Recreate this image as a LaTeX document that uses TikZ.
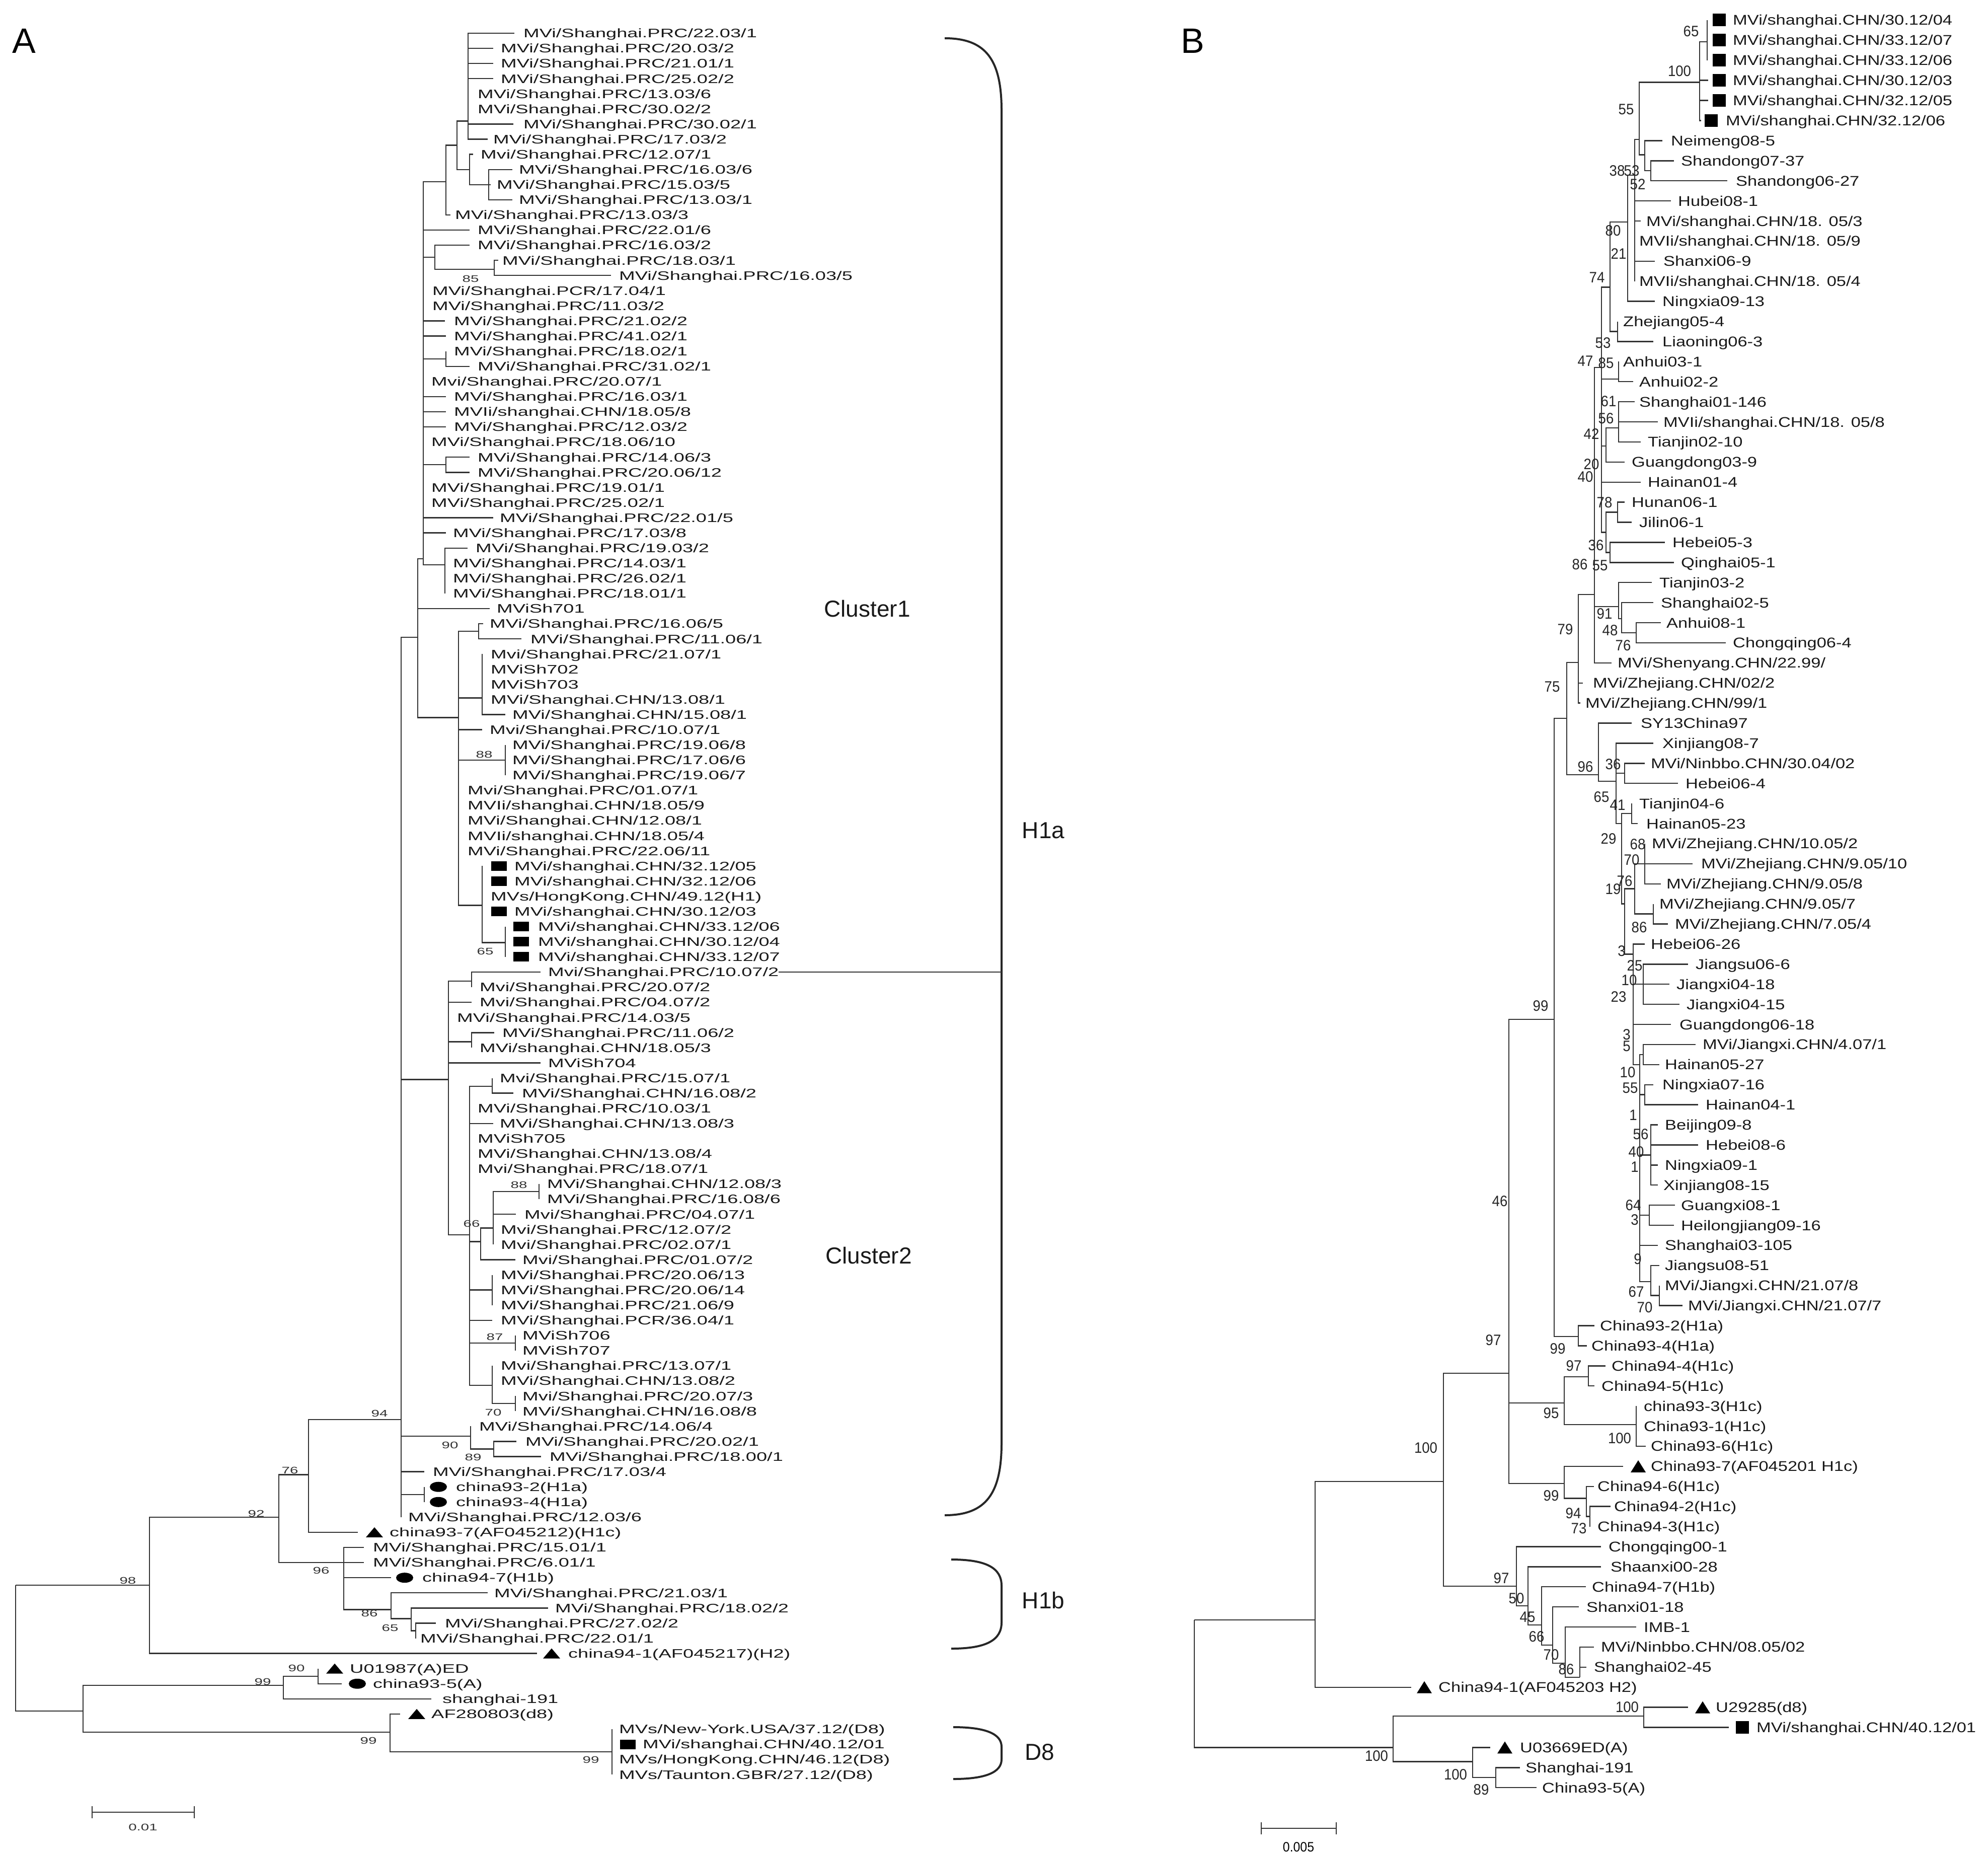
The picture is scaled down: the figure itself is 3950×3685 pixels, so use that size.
\documentclass[tikz,border=0pt]{standalone}
\usepackage{fontspec}
\setmainfont{Liberation Sans}
\newfontfamily\fa[FakeStretch=1.55]{Liberation Sans}
\newfontfamily\fb[FakeStretch=1.23]{Liberation Sans}
\newfontfamily\fnb[FakeStretch=0.92]{Liberation Sans}
\usetikzlibrary{shapes.geometric}
\pgfmathdeclarefunction{ra}{1}{\pgfmathparse{66+30.08*(#1-1)}}
\pgfmathdeclarefunction{rb}{1}{\pgfmathparse{40+39.9*(#1-1)}}
\tikzset{
 br/.style={line width=2.4pt, draw=black!80},
 la/.style={font=\fa\fontsize{24.5}{26}\selectfont, anchor=base west, inner sep=0pt, yshift=-8.8pt, text=black!90},
 lb/.style={font=\fb\fontsize{28}{30}\selectfont, anchor=base west, inner sep=0pt, yshift=-10pt, text=black!90},
 bsa/.style={font=\fa\fontsize{19}{20}\selectfont, inner sep=0pt, text=black!80},
 bsb/.style={font=\fnb\fontsize{30}{31}\selectfont, inner sep=0pt, text=black!85},
 sqa/.style={fill=black, inner sep=0pt, minimum width=31pt, minimum height=19pt},
 cia/.style={ellipse, fill=black, inner sep=0pt, minimum width=34pt, minimum height=20pt},
 sqb/.style={fill=black, inner sep=0pt, minimum width=26pt, minimum height=25pt},
 big/.style={font=\fontsize{46}{50}\selectfont, inner sep=0pt, text=black!90},
 brc/.style={line width=4pt, draw=black!85},
}
\newcommand\LA[4]{\coordinate (a#1) at (#2,{ra(#1)}); \node[la] (a#1l) at (#3,{ra(#1)}) {#4};}
\newcommand\LB[4]{\coordinate (b#1) at (#2,{rb(#1)}); \node[lb] (b#1l) at (#3,{rb(#1)}) {#4};}
\newcommand\CA[3]{\coordinate (#1) at (#2,{ra(#3)});}
\newcommand\CB[3]{\coordinate (#1) at (#2,{rb(#3)});}
\newcommand\KA[2]{\foreach \ch in {#2}{\draw[br] (#1) |- (\ch);}}
\newcommand\NA[4]{\node[bsa] (#1) at (#2,#3) {#4};}
\newcommand\NB[4]{\node[bsb] (#1) at (#2,#3) {#4};}
\newcommand\SQA[3]{\node[sqa] (#1) at (#2,{ra(#3)}) {};}
\newcommand\CIA[3]{\node[cia] (#1) at (#2,{ra(#3)}) {};}
\newcommand\TRA[3]{\coordinate (#1) at (#2,{ra(#3)}); \fill[black] (#1) ++(-17,10) -- ++(34,0) -- ++(-17,-20) -- cycle;}
\newcommand\SQB[3]{\node[sqb] (#1) at (#2,{rb(#3)}) {};}
\newcommand\TRB[3]{\coordinate (#1) at (#2,{rb(#3)}); \fill[black] (#1) ++(-15,12) -- ++(30,0) -- ++(-15,-24) -- cycle;}
\begin{document}
\begin{tikzpicture}[x=1pt,y=-1pt]
\fill[white] (0,0) rectangle (3950,3685);
\useasboundingbox (0,0) rectangle (3950,3685);
\node[font=\fontsize{70}{72}\selectfont, inner sep=0pt] (pA) at (48,81) {A};
\node[font=\fontsize{70}{72}\selectfont, inner sep=0pt] (pB) at (2370,81) {B};
% ================= PANEL A leaves
\LA{1}{1022}{1040}{MVi/Shanghai.PRC/22.03/1}
\LA{2}{980}{995}{MVi/Shanghai.PRC/20.03/2}
\LA{3}{980}{995}{MVi/Shanghai.PRC/21.01/1}
\LA{4}{980}{995}{MVi/Shanghai.PRC/25.02/2}
\LA{5}{930}{949}{MVi/Shanghai.PRC/13.03/6}
\LA{6}{930}{949}{MVi/Shanghai.PRC/30.02/2}
\LA{7}{1020}{1040}{MVi/Shanghai.PRC/30.02/1}
\LA{8}{969}{980}{MVi/Shanghai.PRC/17.03/2}
\LA{9}{940}{955}{Mvi/Shanghai.PRC/12.07/1}
\LA{10}{1018}{1031}{MVi/Shanghai.PRC/16.03/6}
\LA{11}{975}{987}{MVi/Shanghai.PRC/15.03/5}
\LA{12}{1018}{1031}{MVi/Shanghai.PRC/13.03/1}
\LA{13}{895}{904}{MVi/Shanghai.PRC/13.03/3}
\LA{14}{933}{949}{MVi/Shanghai.PRC/22.01/6}
\LA{15}{933}{949}{MVi/Shanghai.PRC/16.03/2}
\LA{16}{990}{998}{MVi/Shanghai.PRC/18.03/1}
\LA{17}{1214}{1230}{MVi/Shanghai.PRC/16.03/5}
\LA{18}{841}{859}{MVi/Shanghai.PCR/17.04/1}
\LA{19}{841}{859}{MVi/Shanghai.PRC/11.03/2}
\LA{20}{884}{902}{MVi/Shanghai.PRC/21.02/2}
\LA{21}{886}{902}{MVi/Shanghai.PRC/41.02/1}
\LA{22}{886}{902}{MVi/Shanghai.PRC/18.02/1}
\LA{23}{933}{949}{MVi/Shanghai.PRC/31.02/1}
\LA{24}{841}{857}{Mvi/Shanghai.PRC/20.07/1}
\LA{25}{886}{902}{MVi/Shanghai.PRC/16.03/1}
\LA{26}{886}{902}{MVIi/shanghai.CHN/18.05/8}
\LA{27}{886}{902}{MVi/Shanghai.PRC/12.03/2}
\LA{28}{841}{857}{MVi/Shanghai.PRC/18.06/10}
\LA{29}{933}{949}{MVi/Shanghai.PRC/14.06/3}
\LA{30}{933}{949}{MVi/Shanghai.PRC/20.06/12}
\LA{31}{841}{857}{MVi/Shanghai.PRC/19.01/1}
\LA{32}{841}{857}{MVi/Shanghai.PRC/25.02/1}
\LA{33}{980}{993}{MVi/Shanghai.PRC/22.01/5}
\LA{34}{886}{900}{MVi/Shanghai.PRC/17.03/8}
\LA{35}{929}{945}{MVi/Shanghai.PRC/19.03/2}
\LA{36}{884}{900}{MVi/Shanghai.PRC/14.03/1}
\LA{37}{884}{900}{MVi/Shanghai.PRC/26.02/1}
\LA{38}{884}{900}{MVi/Shanghai.PRC/18.01/1}
\LA{39}{973}{987}{MViSh701}
\LA{40}{960}{973}{MVi/Shanghai.PRC/16.06/5}
\LA{41}{1036}{1054}{MVi/Shanghai.PRC/11.06/1}
\LA{42}{958}{975}{Mvi/Shanghai.PRC/21.07/1}
\LA{43}{958}{975}{MViSh702}
\LA{44}{958}{975}{MViSh703}
\LA{45}{958}{975}{MVi/Shanghai.CHN/13.08/1}
\LA{46}{1004}{1018}{MVi/Shanghai.CHN/15.08/1}
\LA{47}{958}{973}{Mvi/Shanghai.PRC/10.07/1}
\LA{48}{1004}{1018}{MVi/Shanghai.PRC/19.06/8}
\LA{49}{1004}{1018}{MVi/Shanghai.PRC/17.06/6}
\LA{50}{1004}{1018}{MVi/Shanghai.PRC/19.06/7}
\LA{51}{911}{929}{Mvi/Shanghai.PRC/01.07/1}
\LA{52}{911}{929}{MVIi/shanghai.CHN/18.05/9}
\LA{53}{911}{929}{MVi/Shanghai.CHN/12.08/1}
\LA{54}{911}{929}{MVIi/shanghai.CHN/18.05/4}
\LA{55}{911}{929}{MVi/Shanghai.PRC/22.06/11}
\LA{56}{958}{1022}{MVi/shanghai.CHN/32.12/05}
\LA{57}{958}{1022}{MVi/shanghai.CHN/32.12/06}
\LA{58}{958}{975}{MVs/HongKong.CHN/49.12(H1)}
\LA{59}{958}{1022}{MVi/shanghai.CHN/30.12/03}
\LA{60}{1004}{1069}{MVi/shanghai.CHN/33.12/06}
\LA{61}{1004}{1069}{MVi/shanghai.CHN/30.12/04}
\LA{62}{1004}{1069}{MVi/shanghai.CHN/33.12/07}
\LA{63}{1074}{1089}{Mvi/Shanghai.PRC/10.07/2}
\LA{64}{937}{953}{Mvi/Shanghai.PRC/20.07/2}
\LA{65}{937}{953}{Mvi/Shanghai.PRC/04.07/2}
\LA{66}{891}{908}{MVi/Shanghai.PRC/14.03/5}
\LA{67}{982}{998}{MVi/Shanghai.PRC/11.06/2}
\LA{68}{937}{953}{MVi/shanghai.CHN/18.05/3}
\LA{69}{1074}{1089}{MViSh704}
\LA{70}{978}{993}{Mvi/Shanghai.PRC/15.07/1}
\LA{71}{1020}{1037}{MVi/Shanghai.CHN/16.08/2}
\LA{72}{933}{949}{MVi/Shanghai.PRC/10.03/1}
\LA{73}{980}{993}{MVi/Shanghai.CHN/13.08/3}
\LA{74}{933}{949}{MViSh705}
\LA{75}{933}{949}{MVi/Shanghai.CHN/13.08/4}
\LA{76}{933}{949}{Mvi/Shanghai.PRC/18.07/1}
\LA{77}{1071}{1087}{MVi/Shanghai.CHN/12.08/3}
\LA{78}{1071}{1087}{MVi/Shanghai.PRC/16.08/6}
\LA{79}{1025}{1042}{Mvi/Shanghai.PRC/04.07/1}
\LA{80}{980}{995}{Mvi/Shanghai.PRC/12.07/2}
\LA{81}{980}{995}{Mvi/Shanghai.PRC/02.07/1}
\LA{82}{1024}{1038}{Mvi/Shanghai.PRC/01.07/2}
\LA{83}{978}{995}{MVi/Shanghai.PRC/20.06/13}
\LA{84}{978}{995}{MVi/Shanghai.PRC/20.06/14}
\LA{85}{978}{995}{MVi/Shanghai.PRC/21.06/9}
\LA{86}{978}{995}{MVi/Shanghai.PCR/36.04/1}
\LA{87}{1024}{1038}{MViSh706}
\LA{88}{1024}{1038}{MViSh707}
\LA{89}{978}{995}{Mvi/Shanghai.PRC/13.07/1}
\LA{90}{978}{995}{MVi/Shanghai.CHN/13.08/2}
\LA{91}{1024}{1038}{Mvi/Shanghai.PRC/20.07/3}
\LA{92}{1024}{1038}{MVi/Shanghai.CHN/16.08/8}
\LA{93}{935}{952}{MVi/Shanghai.PRC/14.06/4}
\LA{94}{1026}{1044}{MVi/Shanghai.PRC/20.02/1}
\LA{95}{1075}{1092}{MVi/Shanghai.PRC/18.00/1}
\LA{96}{843}{860}{MVi/Shanghai.PRC/17.03/4}
\LA{97}{843}{906}{china93-2(H1a)}
\LA{98}{843}{906}{china93-4(H1a)}
\LA{99}{797}{811}{MVi/Shanghai.PRC/12.03/6}
\LA{100}{711}{774}{china93-7(AF045212)(H1c)}
\LA{101}{723}{741}{MVi/Shanghai.PRC/15.01/1}
\LA{102}{723}{741}{MVi/Shanghai.PRC/6.01/1}
\LA{103}{777}{839}{china94-7(H1b)}
\LA{104}{969}{982}{MVi/Shanghai.PRC/21.03/1}
\LA{105}{1089}{1103}{MVi/Shanghai.PRC/18.02/2}
\LA{106}{866}{884}{MVi/Shanghai.PRC/27.02/2}
\LA{107}{826}{835}{MVi/Shanghai.PRC/22.01/1}
\LA{108}{1067}{1129}{china94-1(AF045217)(H2)}
\LA{109}{632}{695}{U01987(A)ED}
\LA{110}{679}{741}{china93-5(A)}
\LA{111}{857}{879}{shanghai-191}
\LA{112}{795}{857}{AF280803(d8)}
\LA{113}{1216}{1230}{MVs/New-York.USA/37.12/(D8)}
\LA{114}{1216}{1277}{MVi/shanghai.CHN/40.12/01}
\LA{115}{1216}{1230}{MVs/HongKong.CHN/46.12(D8)}
\LA{116}{1216}{1230}{MVs/Taunton.GBR/27.12/(D8)}
% internal nodes A
\coordinate (A0) at (31,{ra(103.5)});
\CA{nA98}{297}{103.5}
\CA{nA92}{554}{99}
\CA{nA76}{613}{96.2}
\CA{nA94}{797}{92.55}
\CA{nC1}{830}{40.9}
\CA{nBB}{841}{35.7}
\CA{nA5}{886}{10.8}
\CA{nA2}{908}{8.4}
\CA{nA1}{930}{6.8}
\CA{nA3}{933}{10}
\CA{nA4}{971}{11}
\CA{nA6}{864}{15.8}
\CA{nA7}{982}{16.6}
\CA{nA8}{886}{22.5}
\CA{nA9}{886}{29.5}
\CA{nA10}{884}{36.1}
\CA{nC2}{911}{46.2}
\CA{nC2a}{951}{40.5}
\CA{nC3}{958}{44.9}
\CA{nC4}{1004}{49}
\CA{nC5}{958}{58.6}
\CA{nC6}{1004}{61.05}
\CA{nD1}{891}{70.1}
\CA{nD2}{937}{63.6}
\CA{nD3}{937}{67.6}
\CA{nD4}{933}{80.35}
\CA{nD4a}{978}{70.55}
\CA{nD5}{955}{80.8}
\CA{nE1}{980}{79.9}
\CA{nE88}{1071}{77.5}
\CA{nD6}{978}{84}
\CA{nD87}{1024}{87.5}
\CA{nD7}{978}{90.3}
\CA{nD70}{1024}{91.5}
\CA{nA90}{935}{93.65}
\CA{nA89}{981}{94.5}
\CA{nA9798}{843}{97.5}
\CA{nA96}{683}{102}
\CA{nA86}{777}{105.1}
\CA{nA65}{817}{105.7}
\CA{nA65b}{826}{106.5}
\CA{nAD}{165}{111.8}
\CA{nA99a}{563}{110.1}
\CA{nA90a}{632}{109.5}
\CA{nA99b}{775}{113.2}
\CA{nA99c}{1216}{114.5}
% edges A
\KA{A0}{nA98,nAD}
\KA{nA98}{nA92,a108}
\KA{nA92}{nA76,nA96}
\KA{nA76}{nA94,a100}
\KA{nA94}{nC1,nD1,nA90,a96,nA9798,a99}
\KA{nC1}{nBB,a39,nC2}
\KA{nBB}{nA5,a14,nA6,a18,a19,a20,a21,nA8,a24,a25,a26,a27,a28,nA9,a31,a32,a33,a34,nA10}
\KA{nA5}{nA2,a13}
\KA{nA2}{nA1,nA3}
\KA{nA1}{a1,a2,a3,a4,a5,a6,a7,a8}
\KA{nA3}{a9,nA4}
\KA{nA4}{a10,a11,a12}
\KA{nA6}{a15,nA7}
\KA{nA7}{a16,a17}
\KA{nA8}{a22,a23}
\KA{nA9}{a29,a30}
\KA{nA10}{a35,a36,a37,a38}
\KA{nC2}{nC2a,nC3,a47,nC4,a51,a52,a53,a54,a55,nC5}
\KA{nC2a}{a40,a41}
\KA{nC3}{a42,a43,a44,a45,a46}
\KA{nC4}{a48,a49,a50}
\KA{nC5}{a56,a57,a58,a59,nC6}
\KA{nC6}{a60,a61,a62}
\KA{nD1}{nD2,a65,a66,nD3,a69,nD4}
\KA{nD2}{a63,a64}
\KA{nD3}{a67,a68}
\KA{nD4}{nD4a,a72,a73,a74,a75,a76,nD5,nD6,a86,nD87,nD7}
\KA{nD4a}{a70,a71}
\KA{nD5}{nE1,a82}
\KA{nE1}{nE88,a79,a80,a81}
\KA{nE88}{a77,a78}
\KA{nD6}{a83,a84,a85}
\KA{nD87}{a87,a88}
\KA{nD7}{a89,a90,nD70}
\KA{nD70}{a91,a92}
\KA{nA90}{a93,nA89}
\KA{nA89}{a94,a95}
\KA{nA9798}{a97,a98}
\KA{nA96}{a101,a102,a103,nA86}
\KA{nA86}{a104,nA65}
\KA{nA65}{a105,nA65b}
\KA{nA65b}{a106,a107}
\KA{nAD}{nA99a,nA99b}
\KA{nA99a}{nA90a,a111}
\KA{nA90a}{a109,a110}
\KA{nA99b}{a112,nA99c}
\KA{nA99c}{a113,a114,a115,a116}
% markers A
\SQA{mA56}{991}{56}\SQA{mA57}{991}{57}\SQA{mA59}{991}{59}
\SQA{mA60}{1035}{60}\SQA{mA61}{1035}{61}\SQA{mA62}{1035}{62}
\SQA{mA114}{1247}{114}
\CIA{mA97}{871}{97}\CIA{mA98}{871}{98}\CIA{mA103}{804}{103}\CIA{mA110}{710}{110}
\TRA{mA100}{744}{100}\TRA{mA108}{1096}{108}\TRA{mA109}{665}{109}\TRA{mA112}{828}{112}
% bootstrap A
\NA{bA1}{935}{554}{85}
\NA{bA2}{962}{1499}{88}
\NA{bA3}{964}{1890}{65}
\NA{bA4}{1031}{2354}{88}
\NA{bA5}{937}{2431}{66}
\NA{bA6}{983}{2656}{87}
\NA{bA7}{980}{2806}{70}
\NA{bA8}{754}{2808}{94}
\NA{bA9}{894}{2871}{90}
\NA{bA10}{940}{2895}{89}
\NA{bA11}{576}{2921}{76}
\NA{bA12}{509}{3007}{92}
\NA{bA13}{254}{3140}{98}
\NA{bA14}{638}{3120}{96}
\NA{bA15}{734}{3205}{86}
\NA{bA16}{775}{3234}{65}
\NA{bA17}{589}{3314}{90}
\NA{bA18}{522}{3341}{99}
\NA{bA19}{732}{3458}{99}
\NA{bA20}{1174}{3496}{99}
% scale A
\coordinate (sA1) at (183,3600); \coordinate (sA2) at (386,3600);
\draw[br] (sA1) -- (sA2);
\draw[br] (sA1) ++(0,-12) -- ++(0,24);
\draw[br] (sA2) ++(0,-12) -- ++(0,24);
\node[bsa] (sAl) at (284,3630) {0.01};
% braces and clade names
\draw[brc] (1877,76) .. controls (1960,76) and (1990,120) .. (1990,220) -- (1990,2866) .. controls (1990,2966) and (1960,3010) .. (1877,3010);
\coordinate (brA) at (1990,{ra(63)});
\draw[br] (a63l.east |- a63) -- (brA);
\draw[brc] (1890,3098) .. controls (1960,3098) and (1990,3115) .. (1990,3150) -- (1990,3223) .. controls (1990,3258) and (1960,3275) .. (1890,3275);
\draw[brc] (1894,3431) .. controls (1960,3431) and (1990,3445) .. (1990,3470) -- (1990,3495) .. controls (1990,3520) and (1960,3534) .. (1894,3534);
\node[big] (cl1) at (1723,1209) {Cluster1};
\node[big] (cl2) at (1726,2494) {Cluster2};
\node[big] (h1a) at (2073,1650) {H1a};
\node[big] (h1b) at (2073,3179) {H1b};
\node[big] (d8) at (2066,3481) {D8};
% ================= PANEL B leaves
\LB{1}{3392}{3443}{MVi/shanghai.CHN/30.12/04}
\LB{2}{3392}{3443}{MVi/shanghai.CHN/33.12/07}
\LB{3}{3392}{3443}{MVi/shanghai.CHN/33.12/06}
\LB{4}{3394}{3443}{MVi/shanghai.CHN/30.12/03}
\LB{5}{3394}{3443}{MVi/shanghai.CHN/32.12/05}
\LB{6}{3380}{3429}{MVi/shanghai.CHN/32.12/06}
\LB{7}{3303}{3320}{Neimeng08-5}
\LB{8}{3326}{3340}{Shandong07-37}
\LB{9}{3432}{3449}{Shandong06-27}
\LB{10}{3320}{3334}{Hubei08-1}
\LB{11}{3260}{3271}{MVi/shanghai.CHN/18. 05/3}
\LB{12}{3248}{3257}{MVIi/shanghai.CHN/18. 05/9}
\LB{13}{3288}{3305}{Shanxi06-9}
\LB{14}{3248}{3257}{MVIi/shanghai.CHN/18. 05/4}
\LB{15}{3288}{3303}{Ningxia09-13}
\LB{16}{3214}{3225}{Zhejiang05-4}
\LB{17}{3285}{3303}{Liaoning06-3}
\LB{18}{3216}{3225}{Anhui03-1}
\LB{19}{3245}{3257}{Anhui02-2}
\LB{20}{3248}{3257}{Shanghai01-146}
\LB{21}{3294}{3305}{MVIi/shanghai.CHN/18. 05/8}
\LB{22}{3260}{3274}{Tianjin02-10}
\LB{23}{3228}{3242}{Guangdong03-9}
\LB{24}{3260}{3274}{Hainan01-4}
\LB{25}{3228}{3242}{Hunan06-1}
\LB{26}{3242}{3257}{Jilin06-1}
\LB{27}{3308}{3323}{Hebei05-3}
\LB{28}{3326}{3340}{Qinghai05-1}
\LB{29}{3282}{3297}{Tianjin03-2}
\LB{30}{3285}{3300}{Shanghai02-5}
\LB{31}{3300}{3311}{Anhui08-1}
\LB{32}{3429}{3443}{Chongqing06-4}
\LB{33}{3202}{3214}{MVi/Shenyang.CHN/22.99/}
\LB{34}{3145}{3165}{MVi/Zhejiang.CHN/02/2}
\LB{35}{3140}{3150}{MVi/Zhejiang.CHN/99/1}
\LB{36}{3242}{3260}{SY13China97}
\LB{37}{3285}{3303}{Xinjiang08-7}
\LB{38}{3268}{3280}{MVi/Ninbbo.CHN/30.04/02}
\LB{39}{3334}{3349}{Hebei06-4}
\LB{40}{3242}{3257}{Tianjin04-6}
\LB{41}{3254}{3271}{Hainan05-23}
\LB{42}{3268}{3282}{MVi/Zhejiang.CHN/10.05/2}
\LB{43}{3363}{3380}{MVi/Zhejiang.CHN/9.05/10}
\LB{44}{3300}{3311}{MVi/Zhejiang.CHN/9.05/8}
\LB{45}{3285}{3297}{MVi/Zhejiang.CHN/9.05/7}
\LB{46}{3314}{3328}{MVi/Zhejiang.CHN/7.05/4}
\LB{47}{3268}{3280}{Hebei06-26}
\LB{48}{3354}{3369}{Jiangsu06-6}
\LB{49}{3317}{3331}{Jiangxi04-18}
\LB{50}{3337}{3351}{Jiangxi04-15}
\LB{51}{3320}{3337}{Guangdong06-18}
\LB{52}{3369}{3383}{MVi/Jiangxi.CHN/4.07/1}
\LB{53}{3297}{3308}{Hainan05-27}
\LB{54}{3285}{3303}{Ningxia07-16}
\LB{55}{3374}{3389}{Hainan04-1}
\LB{56}{3294}{3308}{Beijing09-8}
\LB{57}{3374}{3389}{Hebei08-6}
\LB{58}{3294}{3308}{Ningxia09-1}
\LB{59}{3294}{3305}{Xinjiang08-15}
\LB{60}{3328}{3340}{Guangxi08-1}
\LB{61}{3326}{3340}{Heilongjiang09-16}
\LB{62}{3294}{3308}{Shanghai03-105}
\LB{63}{3297}{3308}{Jiangsu08-51}
\LB{64}{3297}{3308}{MVi/Jiangxi.CHN/21.07/8}
\LB{65}{3343}{3354}{MVi/Jiangxi.CHN/21.07/7}
\LB{66}{3168}{3179}{China93-2(H1a)}
\LB{67}{3153}{3162}{China93-4(H1a)}
\LB{68}{3190}{3202}{China94-4(H1c)}
\LB{69}{3168}{3182}{China94-5(H1c)}
\LB{70}{3251}{3266}{china93-3(H1c)}
\LB{71}{3251}{3266}{China93-1(H1c)}
\LB{72}{3270}{3280}{China93-6(H1c)}
\LB{73}{3225}{3280}{China93-7(AF045201 H1c)}
\LB{74}{3167}{3174}{China94-6(H1c)}
\LB{75}{3200}{3207}{China94-2(H1c)}
\LB{76}{3159}{3174}{China94-3(H1c)}
\LB{77}{3181}{3196}{Chongqing00-1}
\LB{78}{3181}{3200}{Shaanxi00-28}
\LB{79}{3151}{3163}{China94-7(H1b)}
\LB{80}{3137}{3152}{Shanxi01-18}
\LB{81}{3251}{3266}{IMB-1}
\LB{82}{3167}{3181}{MVi/Ninbbo.CHN/08.05/02}
\LB{83}{3152}{3167}{Shanghai02-45}
\LB{84}{2804}{2858}{China94-1(AF045203 H2)}
\LB{85}{3354}{3409}{U29285(d8)}
\LB{86}{3435}{3490}{MVi/shanghai.CHN/40.12/01}
\LB{87}{2961}{3020}{U03669ED(A)}
\LB{88}{3020}{3031}{Shanghai-191}
\LB{89}{3053}{3064}{China93-5(A)}
% internal nodes B
\CB{Br}{2373}{80.65}
\CB{Bn2613}{2613}{80.65}
\CB{Bn2868}{2868}{73.75}
\CB{Bn2998}{2998}{68.37}
\CB{Bn3088}{3088}{50.75}
\CB{Bn3113}{3113}{35.76}
\CB{Bn79}{3136}{32.98}
\CB{BnBack}{3168}{29.6}
\CB{X4}{3182}{18.3}
\CB{X3}{3199}{14.3}
\CB{X2}{3234}{11.05}
\CB{X1}{3248}{8.72}
\CB{B55}{3257}{6.94}
\CB{B100}{3377}{4.1}
\CB{B65}{3392}{2.08}
\CB{NS}{3268}{7.7}
\CB{SD}{3280}{8.5}
\CB{Z}{3214}{16.5}
\CB{nAn}{3216}{18.87}
\CB{n42}{3191}{22.2}
\CB{n61}{3216}{21.3}
\CB{nHQ}{3191}{26.5}
\CB{nHJ}{3214}{25.5}
\CB{nHQ2}{3199}{27.5}
\CB{n91}{3216}{30.2}
\CB{n48}{3222}{30.8}
\CB{n76}{3251}{31.5}
\CB{Bn96}{3176}{38.57}
\CB{Bn65b}{3211}{38.9}
\CB{Bn36}{3228}{38.5}
\CB{P1}{3222}{41.0}
\CB{nTH}{3242}{40.5}
\CB{P2}{3228}{45}
\CB{n70}{3248}{44.25}
\CB{n68}{3268}{43}
\CB{n86}{3285}{45.5}
\CB{P3}{3245}{47.5}
\CB{n25}{3265}{49}
\CB{P4}{3258}{53}
\CB{n5}{3265}{52.5}
\CB{nNH}{3268}{54.5}
\CB{n56}{3280}{57.5}
\CB{n64}{3277}{60.5}
\CB{n67}{3280}{63.8}
\CB{n70b}{3297}{64.5}
\CB{BnCh93}{3136}{66.54}
\CB{Bn95}{3108}{69.85}
\CB{Bn97c}{3156}{68.55}
\CB{Bn100c}{3251}{70.93}
\CB{Bn99c}{3108}{73.85}
\CB{Bn94}{3152}{74.6}
\CB{Bn73}{3159}{75.5}
\CB{Bn97b}{3013}{78.97}
\CB{Bn50}{3036}{79.95}
\CB{Bn45}{3063}{80.9}
\CB{Bn66}{3085}{81.9}
\CB{Bn70}{3110}{82.8}
\CB{Bn86}{3139}{83.5}
\CB{BnD}{2768}{87}
\CB{BnD8}{3266}{85.43}
\CB{BnA}{2926}{87.7}
\CB{Bn89}{2972}{88.5}
% edges B
\KA{Br}{Bn2613,BnD}
\KA{Bn2613}{Bn2868,b84}
\KA{Bn2868}{Bn2998,Bn97b}
\KA{Bn2998}{Bn3088,Bn95,Bn99c}
\KA{Bn3088}{Bn3113,BnCh93}
\KA{Bn3113}{Bn79,Bn96}
\KA{Bn79}{BnBack,b34,b35}
\KA{BnBack}{X4,n91,b33}
\KA{X4}{X3,nAn,n42,b24,nHQ}
\KA{X3}{X2,Z}
\KA{X2}{X1,b15}
\KA{X1}{B55,b10,b11,b12,b13,b14}
\KA{B55}{B100,NS}
\KA{B100}{B65,b4,b5,b6}
\KA{B65}{b1,b2,b3}
\KA{NS}{b7,SD}
\KA{SD}{b8,b9}
\KA{Z}{b16,b17}
\KA{nAn}{b18,b19}
\KA{n42}{n61,b23}
\KA{n61}{b20,b21,b22}
\KA{nHQ}{nHJ,nHQ2}
\KA{nHJ}{b25,b26}
\KA{nHQ2}{b27,b28}
\KA{n91}{b29,n48}
\KA{n48}{b30,n76}
\KA{n76}{b31,b32}
\KA{Bn96}{b36,Bn65b}
\KA{Bn65b}{b37,Bn36,P1}
\KA{Bn36}{b38,b39}
\KA{P1}{nTH,P2}
\KA{nTH}{b40,b41}
\KA{P2}{n70,P3}
\KA{n70}{n68,n86}
\KA{n68}{b42,b43,b44}
\KA{n86}{b45,b46}
\KA{P3}{b47,n25,b51,P4}
\KA{n25}{b48,b49,b50}
\KA{P4}{n5,nNH,n56,n64,b62,n67}
\KA{n5}{b52,b53}
\KA{nNH}{b54,b55}
\KA{n56}{b56,b57,b58,b59}
\KA{n64}{b60,b61}
\KA{n67}{b63,n70b}
\KA{n70b}{b64,b65}
\KA{BnCh93}{b66,b67}
\KA{Bn95}{Bn97c,Bn100c}
\KA{Bn97c}{b68,b69}
\KA{Bn100c}{b70,b71,b72}
\KA{Bn99c}{b73,Bn94}
\KA{Bn94}{b74,Bn73}
\KA{Bn73}{b75,b76}
\KA{Bn97b}{b77,Bn50}
\KA{Bn50}{b78,Bn45}
\KA{Bn45}{b79,Bn66}
\KA{Bn66}{b80,Bn70}
\KA{Bn70}{b81,Bn86}
\KA{Bn86}{b82,b83}
\KA{BnD}{BnD8,BnA}
\KA{BnD8}{b85,b86}
\KA{BnA}{b87,Bn89}
\KA{Bn89}{b88,b89}
% markers B
\SQB{mB1}{3416}{1}\SQB{mB2}{3416}{2}\SQB{mB3}{3416}{3}\SQB{mB4}{3416}{4}\SQB{mB5}{3416}{5}
\SQB{mB6}{3400}{6}\SQB{mB86}{3462}{86}
\TRB{mB73}{3255}{73}\TRB{mB84}{2830}{84}\TRB{mB85}{3383}{85}\TRB{mB87}{2990}{87}
% bootstrap B
\NB{bb1}{3360}{62}{65}
\NB{bb2}{3337}{141}{100}
\NB{bb3}{3231}{217}{55}
\NB{bb4}{3213}{339}{38}
\NB{bb5}{3242}{339}{53}
\NB{bb6}{3254}{366}{52}
\NB{bb7}{3205}{458}{80}
\NB{bb8}{3216}{504}{21}
\NB{bb9}{3173}{551}{74}
\NB{bb10}{3185}{681}{53}
\NB{bb11}{3150}{717}{47}
\NB{bb12}{3191}{721}{85}
\NB{bb13}{3196}{797}{61}
\NB{bb14}{3191}{831}{56}
\NB{bb15}{3162}{862}{42}
\NB{bb16}{3162}{922}{20}
\NB{bb17}{3150}{947}{40}
\NB{bb18}{3188}{998}{78}
\NB{bb19}{3171}{1083}{36}
\NB{bb20}{3139}{1121}{86}
\NB{bb21}{3179}{1123}{55}
\NB{bb22}{3188}{1219}{91}
\NB{bb23}{3199}{1252}{48}
\NB{bb24}{3225}{1282}{76}
\NB{bb25}{3110}{1250}{79}
\NB{bb26}{3084}{1364}{75}
\NB{bb27}{3150}{1523}{96}
\NB{bb28}{3205}{1518}{36}
\NB{bb29}{3182}{1583}{65}
\NB{bb30}{3214}{1599}{41}
\NB{bb31}{3196}{1666}{29}
\NB{bb32}{3254}{1677}{68}
\NB{bb33}{3242}{1708}{70}
\NB{bb34}{3228}{1750}{76}
\NB{bb35}{3205}{1766}{19}
\NB{bb36}{3257}{1842}{86}
\NB{bb37}{3222}{1889}{3}
\NB{bb38}{3248}{1918}{25}
\NB{bb39}{3237}{1947}{10}
\NB{bb40}{3216}{1980}{23}
\NB{bb41}{3061}{1998}{99}
\NB{bb42}{3232}{2055}{3}
\NB{bb43}{3232}{2078}{5}
\NB{bb44}{3234}{2130}{10}
\NB{bb45}{3239}{2161}{55}
\NB{bb46}{3245}{2215}{1}
\NB{bb47}{3260}{2253}{56}
\NB{bb48}{3251}{2288}{40}
\NB{bb49}{3248}{2318}{1}
\NB{bb50}{3245}{2394}{64}
\NB{bb51}{3248}{2423}{3}
\NB{bb52}{3254}{2501}{9}
\NB{bb53}{3251}{2566}{67}
\NB{bb54}{3268}{2597}{70}
\NB{bb55}{3095}{2679}{99}
\NB{bb56}{3127}{2713}{97}
\NB{bb57}{3082}{2807}{95}
\NB{bb58}{3218}{2857}{100}
\NB{bb59}{2833}{2876}{100}
\NB{bb60}{3082}{2971}{99}
\NB{bb61}{3126}{3006}{94}
\NB{bb62}{3137}{3036}{73}
\NB{bb63}{2983}{3135}{97}
\NB{bb64}{3013}{3175}{50}
\NB{bb65}{3035}{3212}{45}
\NB{bb66}{3053}{3251}{66}
\NB{bb67}{3082}{3287}{70}
\NB{bb68}{3112}{3316}{86}
\NB{bb69}{3233}{3391}{100}
\NB{bb70}{2892}{3525}{100}
\NB{bb71}{2943}{3555}{89}
\NB{bb72}{2967}{2662}{97}
\NB{bb73}{2980}{2386}{46}
\NB{bb74}{2735}{3488}{100}
% scale B
\coordinate (sB1) at (2506,3632); \coordinate (sB2) at (2655,3632);
\draw[br] (sB1) -- (sB2);
\draw[br] (sB1) ++(0,-12) -- ++(0,24);
\draw[br] (sB2) ++(0,-12) -- ++(0,24);
\node[font=\fnb\fontsize{27}{28}\selectfont, inner sep=0pt] (sBl) at (2580,3669) {0.005};
\end{tikzpicture}
\end{document}
